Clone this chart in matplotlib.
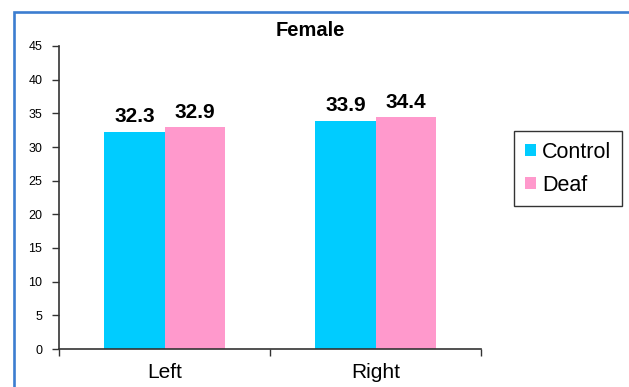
import matplotlib
matplotlib.use("Agg")
from matplotlib import pyplot as plt
from matplotlib.patches import Rectangle, Patch
import numpy as np

plt.rcParams['font.family'] = ['Liberation Sans', 'DejaVu Sans']

# data
sides = ["Left", "Right"]
control = [32.3, 33.9]
deaf = [32.9, 34.4]
series_names = ["Control", "Deaf"]
series_colors = ["#00CCFF", "#FF99CC"]
y_ticks = [0, 5, 10, 15, 20, 25, 30, 35, 40, 45]

W, H = 629, 387
fig = plt.figure(figsize=(W / 100, H / 100), dpi=100)

# axes placed in pixel terms: x 59..481, y 46..349
ax = fig.add_axes([59 / W, 1 - 349 / H, (481 - 59) / W, (349 - 46) / H])

x = np.arange(len(sides))
bw = 0.2857
b1 = ax.bar(x - bw / 2, control, bw, color=series_colors[0], linewidth=0)
b2 = ax.bar(x + bw / 2, deaf, bw, color=series_colors[1], linewidth=0)

for bars, vals in [(b1, control), (b2, deaf)]:
    for r, v in zip(bars, vals):
        ax.annotate(f"{v:.1f}", (r.get_x() + r.get_width() / 2, v),
                    xytext=(0, 7), textcoords="offset points",
                    ha="center", va="baseline", fontsize=15, fontweight="bold")

ax.set_xlim(-0.5, len(sides) - 0.5)
ax.set_ylim(0, 45)
ax.set_yticks(y_ticks)
ax.tick_params(axis="y", direction="out", length=5, width=1, pad=7, labelsize=9,
               color="#333333")

# ticks at category boundaries, labels centred on categories
ax.set_xticks(np.arange(len(sides) + 1) - 0.5)
ax.set_xticklabels([])
ax.set_xticks(x, minor=True)
ax.set_xticklabels(sides, minor=True, fontsize=15)
ax.tick_params(axis="x", which="major", direction="out", length=5, width=1, color="#333333")
ax.tick_params(axis="x", which="minor", length=0, pad=10)

for s in ["top", "right"]:
    ax.spines[s].set_visible(False)
for s in ["left", "bottom"]:
    ax.spines[s].set_color("#333333")
    ax.spines[s].set_linewidth(1.2)

fig.text(310 / W, 1 - 36 / H, "Female", ha="center", va="baseline",
         fontsize=14.5, fontweight="bold")

handles = [Patch(facecolor=c, edgecolor="none") for c in series_colors]
leg = fig.legend(handles, series_names, loc="upper left",
                 bbox_to_anchor=(514 / W, 1 - 131 / H), fontsize=15.5,
                 frameon=True, fancybox=False, edgecolor="black",
                 handlelength=0.5, handleheight=0.5, handletextpad=0.3,
                 labelspacing=0.55, borderpad=0.5, borderaxespad=0)
leg.get_frame().set_linewidth(1.0)

# blue chart-area border, running off the right and bottom edges
fig.patches.append(Rectangle((13.5 / W, -0.1), 1.0, 1 - 11.5 / H + 0.1,
                             transform=fig.transFigure, fill=False,
                             edgecolor="#3C7DD0", linewidth=1.9))

fig.savefig("out.png", dpi=100)
